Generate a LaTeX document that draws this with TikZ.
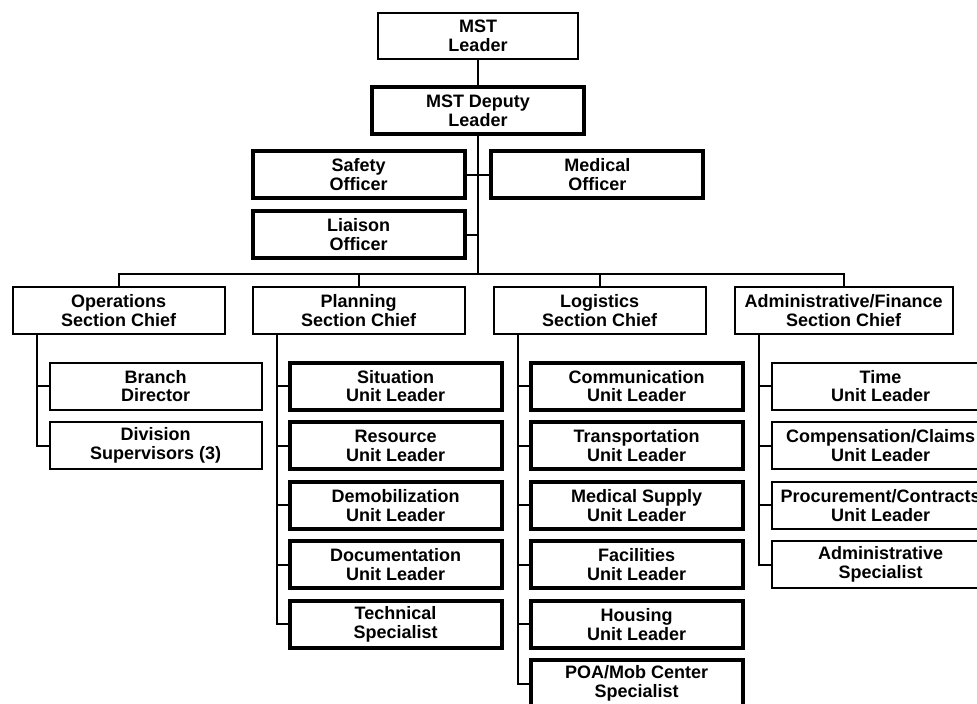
\documentclass[tikz,border=0pt]{standalone}
\usepackage{fontspec}
\setmainfont{Liberation Sans}
\usetikzlibrary{positioning}

\begin{document}
\begin{tikzpicture}[
  role/.style={draw, line width=1.5pt, outer sep=0pt, inner sep=1pt, align=center,
               font=\bfseries\fontsize{13.5}{14.2}\selectfont,
               minimum width=159pt, minimum height=35.25pt},
  keyrole/.style={role, line width=3pt},
  wide/.style={minimum width=163.5pt},
  tie/.style={line width=1.5pt}]
\useasboundingbox (0,0) rectangle (732.75pt,-527.25pt);
\clip (0,0) rectangle (732.75pt,-527.25pt);
% command staff
\node[role, minimum width=150pt, minimum height=34.5pt] (leader) at (358.5pt,-27pt) {MST\\Leader};
\node[keyrole, below=21pt of leader] (deputy) {MST Deputy\\Leader};
\node[keyrole, below=12.75pt of deputy.south, anchor=north east, xshift=-10.1pt] (safety) {Safety\\Officer};
\node[keyrole, below=12.75pt of deputy.south, anchor=north west, xshift=10.1pt] (medical) {Medical\\Officer};
\node[keyrole, below=9.75pt of safety] (liaison) {Liaison\\Officer};
% section chiefs
\node[role, below=21.75pt of liaison.south east, anchor=north east] (planning) {Planning\\Section Chief};
\node[role, left=21pt of planning] (operations) {Operations\\Section Chief};
\node[role, right=21.75pt of planning] (logistics) {Logistics\\Section Chief};
\node[role, wide, right=21.75pt of logistics] (finance) {Administrative/Finance\\Section Chief};
% operations
\node[role, below=21.4pt of operations.south west, anchor=north west, xshift=27.75pt] (branch) {Branch\\Director};
\node[role, below=9.4pt of branch] (division) {Division\\Supervisors (3)};
% planning
\node[keyrole, below=21.4pt of planning.south west, anchor=north west, xshift=27.75pt] (situation) {Situation\\Unit Leader};
\node[keyrole, below=9.4pt of situation] (resource) {Resource\\Unit Leader};
\node[keyrole, below=9.4pt of resource] (demob) {Demobilization\\Unit Leader};
\node[keyrole, below=9.4pt of demob] (documentation) {Documentation\\Unit Leader};
\node[keyrole, below=9.4pt of documentation] (technical) {Technical\\Specialist};
% logistics
\node[keyrole, below=21.4pt of logistics.south west, anchor=north west, xshift=27.75pt] (communication) {Communication\\Unit Leader};
\node[keyrole, below=9.4pt of communication] (transport) {Transportation\\Unit Leader};
\node[keyrole, below=9.4pt of transport] (medsupply) {Medical Supply\\Unit Leader};
\node[keyrole, below=9.4pt of medsupply] (facilities) {Facilities\\Unit Leader};
\node[keyrole, below=9.4pt of facilities] (housing) {Housing\\Unit Leader};
\node[keyrole, below=9.4pt of housing] (poa) {POA/Mob Center\\Specialist};
% admin/finance
\node[role, wide, below=21.4pt of finance.south west, anchor=north west, xshift=27.75pt] (time) {Time\\Unit Leader};
\node[role, wide, below=9.4pt of time] (claims) {Compensation/Claims\\Unit Leader};
\node[role, wide, below=9.4pt of claims] (procurement) {Procurement/Contracts\\Unit Leader};
\node[role, wide, below=9.4pt of procurement] (adminspec) {Administrative\\Specialist};
% lines
\coordinate[above=9.75pt of planning.north] (bus);
\draw[tie] (leader) -- (deputy);
\draw[tie] (deputy) -- (deputy |- bus);
\draw[tie] (safety) -- (medical); \draw[tie] (liaison) -- (liaison -| deputy);
\draw[tie] (operations) -- (operations |- bus) -- (finance |- bus) -- (finance);
\draw[tie] (planning) -- (planning |- bus); \draw[tie] (logistics) -- (logistics |- bus);
\coordinate[right=18pt of operations.south west] (opsbar);
\coordinate[right=18pt of planning.south west] (planbar);
\coordinate[right=18pt of logistics.south west] (logbar);
\coordinate[right=18pt of finance.south west] (finbar);
\draw[tie] (opsbar) |- (branch); \draw[tie] (opsbar) |- (division);
\draw[tie] (planbar) |- (situation); \draw[tie] (planbar) |- (resource);
\draw[tie] (planbar) |- (demob); \draw[tie] (planbar) |- (documentation);
\draw[tie] (planbar) |- (technical);
\draw[tie] (logbar) |- (communication); \draw[tie] (logbar) |- (transport);
\draw[tie] (logbar) |- (medsupply); \draw[tie] (logbar) |- (facilities);
\draw[tie] (logbar) |- (housing); \draw[tie] (logbar) |- (poa);
\draw[tie] (finbar) |- (time); \draw[tie] (finbar) |- (claims);
\draw[tie] (finbar) |- (procurement); \draw[tie] (finbar) |- (adminspec);
\end{tikzpicture}
\end{document}
